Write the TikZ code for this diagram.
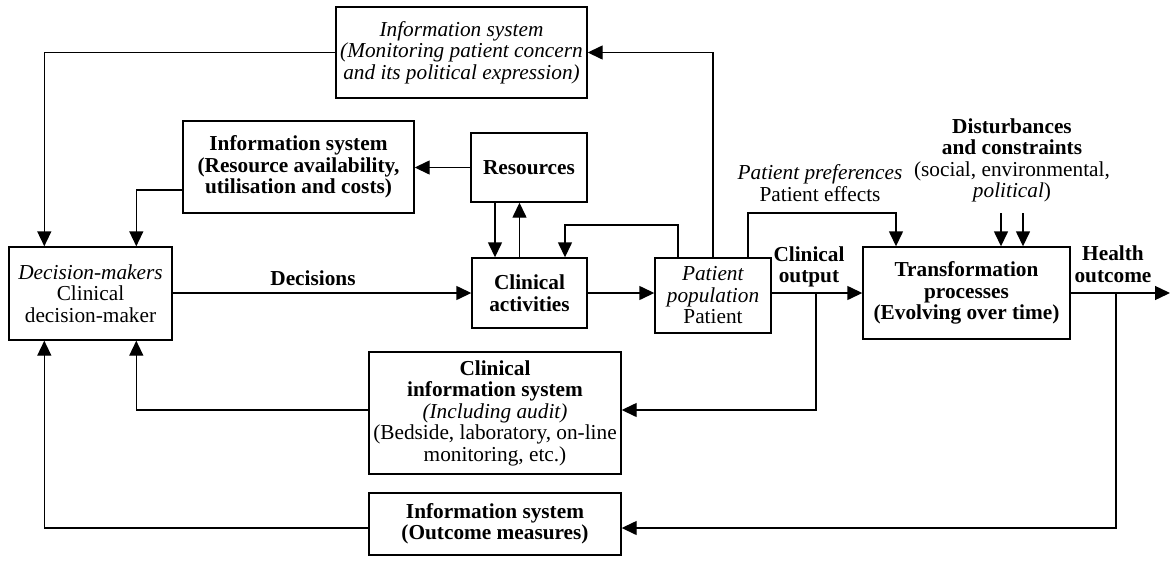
\documentclass[tikz,border=0pt]{standalone}
\usepackage{fontspec}
\setmainfont{Liberation Serif}
\usetikzlibrary{arrows.meta,calc}

\begin{document}
\begin{tikzpicture}[x=1pt,y=-1pt,
  every node/.style={font=\fontsize{21.3}{21.5}\selectfont, align=center, inner sep=0pt},
  box/.style={draw, line width=1.4pt},
  arr/.style={line width=1.4pt, -{Triangle[length=15pt,width=14pt]}}]
\useasboundingbox (0,0) rectangle (1171,563);

% boxes
\node[box, minimum width=251pt, minimum height=91pt] (isp) at (461.5,52.5)
  {\itshape Information system\\\itshape (Monitoring patient concern\\\itshape and its political expression)};
\node[box, minimum width=231pt, minimum height=92pt] (irs) at (298.5,167)
  {\bfseries Information system\\\bfseries (Resource availability,\\\bfseries utilisation and costs)};
\node[box, minimum width=116pt, minimum height=69pt] (res) at (529,167.5) {\bfseries Resources};
\node[box, minimum width=163pt, minimum height=93pt] (dm) at (90.5,293.5)
  {\textit{Decision-makers}\\Clinical\\decision-maker};
\node[box, minimum width=115pt, minimum height=70pt] (ca) at (529.5,293)
  {\bfseries Clinical\\\bfseries activities};
\node[box, minimum width=116pt, minimum height=75pt] (pat) at (713,295.5)
  {\textit{Patient}\\\textit{population}\\Patient};
\node[box, minimum width=207pt, minimum height=92pt] (tr) at (966.5,293)
  {\bfseries Transformation\\\bfseries processes\\\bfseries (Evolving over time)};
\node[box, minimum width=252pt, minimum height=122pt] (cis) at (495,413)
  {\textbf{Clinical}\\\textbf{information system}\\\textit{(Including audit)}\\(Bedside, laboratory, on-line\\monitoring, etc.)};
\node[box, minimum width=252pt, minimum height=62pt] (ois) at (495,524)
  {\bfseries Information system\\\bfseries (Outcome measures)};

% free labels
\node (decl) at (313,278) {\bfseries Decisions};
\node (outl) at (809,267) {\bfseries Clinical\\\bfseries output};
\node (hel) at (1113,264) {\bfseries Health\\\bfseries outcome};
\node (prefl) at (820,183) {\textit{Patient preferences}\\Patient effects};
\node (distl) at (1012,160.5) {\textbf{Disturbances}\\\textbf{and constraints}\\(social, environmental,\\\textit{political})};

% bend points and free ends
\coordinate (loopR) at (678,225);
\coordinate (loopL) at (565,225);
\coordinate (prefA) at (748,213);
\coordinate (prefB) at (896,213);
\coordinate (d1) at (1001,213);
\coordinate (d2) at (1023,213);
\coordinate (ob) at (816,293);
\coordinate (hb) at (1116,293);
\coordinate (end) at (1170,293);

% connectors
\draw[arr] (pat.north) |- (isp.east);
\draw[arr] (isp.west) -| ([xshift=36pt]dm.north west);
\draw[arr] ([yshift=-23pt]irs.west) -| ([xshift=128pt]dm.north west);
\draw[arr] (res.west) -- (res.west -| irs.east);
\draw[arr] ([xshift=-34pt]res.south) -- ([xshift=-34pt]res.south |- ca.north);
\draw[arr] ([xshift=-10pt]ca.north) -- ([xshift=-10pt]ca.north |- res.south);
\draw[arr] (loopR |- pat.north) -- (loopR) -- (loopL) -- (loopL |- ca.north);
\draw[arr] (prefA |- pat.north) -- (prefA) -- (prefB) -- (prefB |- tr.north);
\draw[arr] (d1) -- (d1 |- tr.north);
\draw[arr] (d2) -- (d2 |- tr.north);
\draw[arr] (dm.east |- ca.west) -- (ca.west);
\draw[arr] (ca.east) -- (ca.east -| pat.west);
\draw[arr] (tr.west -| pat.east) -- (tr.west);
\draw[arr] (ob) |- ([yshift=3pt]cis.east);
\draw[arr] (tr.east) -- (end);
\draw[arr] (hb) |- ([yshift=-4pt]ois.east);
\draw[arr] ([yshift=3pt]cis.west) -| ([xshift=128pt]dm.south west);
\draw[arr] ([yshift=-4pt]ois.west) -| ([xshift=36pt]dm.south west);
\end{tikzpicture}
\end{document}
